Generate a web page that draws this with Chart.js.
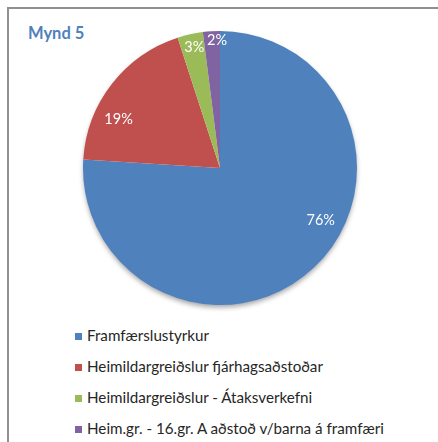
<!DOCTYPE html>
<html>
<head>
<meta charset="utf-8">
<script src="https://cdn.jsdelivr.net/npm/chart.js@4/dist/chart.umd.min.js"></script>
<style>
  body { margin: 0; background: #fff; width: 438px; height: 442px; overflow: hidden; position: relative; font-family: Lato, "Open Sans", sans-serif; }
  #frame { position: absolute; left: 7px; top: 7px; width: 440px; height: 450px; border: 2px solid #909090; box-sizing: border-box; }
  #title { position: absolute; left: 28px; top: 23px; font-size: 16.5px; font-weight: bold; color: #4f81bd; }
  #chartBox { position: absolute; left: 73px; top: 21px; width: 294px; height: 294px; }
  #legend { position: absolute; left: 75px; top: 320px; margin: 0; padding: 0; list-style: none; }
  #legend li { height: 31px; line-height: 31px; font-size: 15.2px; color: #262626; white-space: nowrap; }
  #legend span { display: inline-block; width: 7px; height: 7px; margin-right: 5px; vertical-align: 1px; }
</style>
</head>
<body>
<div id="frame"></div>
<div id="title">Mynd 5</div>
<div id="chartBox"><canvas id="pie"></canvas></div>
<ul id="legend"></ul>
<script>
const categories = [
    'Framfærslustyrkur',
    'Heimildargreiðslur fjárhagsaðstoðar',
    'Heimildargreiðslur - Átaksverkefni',
    'Heim.gr. - 16.gr. A aðstoð v/barna á framfæri'
];
const shares = [76, 19, 3, 2];
const colors = ['#4f81bd', '#c0504d', '#9bbb59', '#8064a2'];

// where each label sits inside its slice: fraction along the arc, fraction of the radius
const labelAlong = [0.43, 0.32, 0.55, 0.82];
const labelOut = [0.83, 0.82, 0.9, 0.93];

const pieShadow = {
    id: 'pieShadow',
    beforeDatasetsDraw(chart) {
        const arc = chart.getDatasetMeta(0).data[0];
        const ctx = chart.ctx;
        ctx.save();
        ctx.shadowColor = 'rgba(0,0,0,0.35)';
        ctx.shadowBlur = 5;
        ctx.shadowOffsetY = 3;
        ctx.fillStyle = '#fff';
        ctx.beginPath();
        ctx.arc(arc.x, arc.y, arc.outerRadius - 0.5, 0, Math.PI * 2);
        ctx.fill();
        ctx.restore();
    }
};

const sliceLabels = {
    id: 'sliceLabels',
    afterDatasetsDraw(chart) {
        const ctx = chart.ctx;
        ctx.save();
        ctx.font = '14.5px Lato, "Open Sans", sans-serif';
        ctx.fillStyle = '#fff';
        ctx.textAlign = 'center';
        ctx.textBaseline = 'middle';
        chart.getDatasetMeta(0).data.forEach((arc, i) => {
            const a = arc.startAngle + (arc.endAngle - arc.startAngle) * labelAlong[i];
            const r = arc.outerRadius * labelOut[i];
            ctx.fillText(shares[i] + '%', arc.x + Math.cos(a) * r, arc.y + Math.sin(a) * r);
        });
        ctx.restore();
    }
};

new Chart(document.getElementById('pie'), {
    type: 'pie',
    data: {
        labels: categories,
        datasets: [{
            data: shares,
            backgroundColor: colors,
            borderWidth: 0
        }]
    },
    options: {
        responsive: true,
        maintainAspectRatio: false,
        animation: false,
        layout: { padding: 10 },
        plugins: {
            legend: { display: false },
            tooltip: { enabled: false }
        }
    },
    plugins: [pieShadow, sliceLabels]
});

const legend = document.getElementById('legend');
categories.forEach((name, i) => {
    const li = document.createElement('li');
    li.innerHTML = `<span style="background:${colors[i]}"></span>${name}`;
    legend.appendChild(li);
});
</script>
</body>
</html>
